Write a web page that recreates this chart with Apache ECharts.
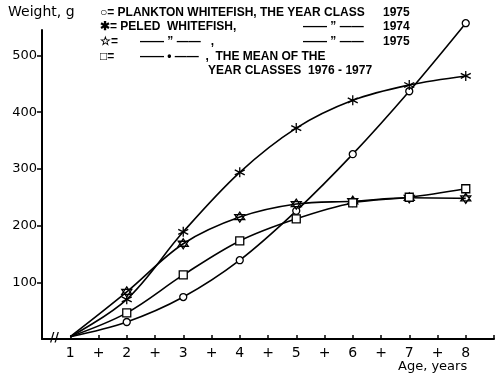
<!DOCTYPE html>
<html lang="en">
<head>
    <meta charset="UTF-8">
    <title>Weight of whitefish by age</title>
    <script src="https://cdn.jsdelivr.net/npm/echarts@6/dist/echarts.min.js"></script>
    <style>
        body { margin: 0; background: #fff; }
        #chart { width: 500px; height: 386px; }
    </style>
</head>
<body>
    <div id="chart"></div>
    <script>
        // age in years
        const ages = [1, 2, 3, 4, 5, 6, 7, 8];
        // weights, g
        const plankton1975 = [4, 30, 74, 139, 226, 326, 437, 557];
        const peled1974 = [4, 70, 189, 294, 372, 421, 448, 464];
        const peled1975 = [4, 83, 168, 215, 238, 243, 249, 248];
        const meanClasses = [4, 46, 113, 173, 212, 240, 250, 265];

        const yTicks = [100, 200, 300, 400, 500];

        const font = '"DejaVu Sans", sans-serif';
        const legFont = 'bold 12px "Liberation Sans", Arial, sans-serif';

        const asteriskPath = 'path://M0,-5L0,5M-4.3,-2.5L4.3,2.5M-4.3,2.5L4.3,-2.5';
        const starPath = 'path://M0,-5L4.33,2.5L-4.33,2.5ZM0,5L4.33,-2.5L-4.33,-2.5Z';

        function points(vals) {
            // no marker at the common starting point
            return vals.map((v, i) => ({
                value: [ages[i], v],
                symbol: i === 0 ? 'none' : undefined
            }));
        }

        function mkSeries(name, vals, symbol, size, fill) {
            return {
                name: name,
                type: 'line',
                data: points(vals),
                smooth: 0.35,
                clip: false,
                symbol: symbol,
                symbolSize: size,
                showSymbol: true,
                lineStyle: { color: '#000', width: 1.6 },
                itemStyle: { color: fill, borderColor: '#000', borderWidth: 1.3 },
                z: 3
            };
        }

        const chart = echarts.init(document.getElementById('chart'));

        // legend block typed as in the original figure
        const txt = (x, y, s) => ({
            type: 'text', left: x, top: y,
            style: { text: s, font: legFont, fill: '#000' }
        });

        chart.setOption({
            animation: false,
            backgroundColor: '#fff',
            grid: { left: 42, right: 6, top: 30, bottom: 47, outerBoundsMode: 'none' },
            xAxis: {
                type: 'value',
                min: 0.5,
                max: 8.5,
                interval: 0.5,
                splitLine: { show: false },
                axisLine: { lineStyle: { color: '#000', width: 2 } },
                axisTick: { inside: true, length: 4, lineStyle: { color: '#000', width: 1.5 } },
                axisLabel: {
                    color: '#000',
                    fontFamily: font,
                    fontSize: 14,
                    margin: 7,
                    formatter: v => {
                        if (v < 1 || v > 8) return '';
                        return Number.isInteger(v) ? String(v) : '+';
                    }
                }
            },
            yAxis: {
                type: 'value',
                min: 0,
                max: 545,
                interval: 100,
                splitLine: { show: false },
                axisLine: { lineStyle: { color: '#000', width: 2 } },
                axisTick: { length: 5, lineStyle: { color: '#000', width: 1.5 },
                    customValues: yTicks },
                axisLabel: {
                    color: '#000',
                    fontFamily: font,
                    fontSize: 13,
                    margin: 5,
                    customValues: yTicks
                }
            },
            graphic: [
                { type: 'text', left: 8, top: 5,
                  style: { text: 'Weight, g', font: '14px ' + font, fill: '#000' } },
                { type: 'text', left: 398, top: 360,
                  style: { text: 'Age, years', font: '13px ' + font, fill: '#000' } },
                txt(100, 7, '\u25CB= PLANKTON WHITEFISH, THE YEAR CLASS'),
                txt(383, 7, '1975'),
                txt(100, 21, '\u2731= PELED  WHITEFISH,'),
                txt(303, 21, '\u2014\u2014 \u201D \u2014\u2014'),
                txt(383, 21, '1974'),
                txt(100, 36, '\u2606='),
                txt(140, 36, '\u2014\u2014 \u201D \u2014\u2014   ,'),
                txt(303, 36, '\u2014\u2014 \u201D \u2014\u2014'),
                txt(383, 36, '1975'),
                txt(100, 51, '\u25A1='),
                txt(140, 51, '\u2014\u2014 \u2022 \u2014\u2014  ,  THE MEAN OF THE'),
                txt(208, 65, 'YEAR CLASSES  1976 - 1977'),
                // axis break mark
                { type: 'text', left: 50, top: 332,
                  style: { text: '//', font: 'bold 12px ' + font, fill: '#000' } }
            ],
            series: [
                mkSeries('Plankton whitefish 1975', plankton1975, 'circle', 7, '#fff'),
                mkSeries('Peled whitefish 1974', peled1974, asteriskPath, 10, '#000'),
                mkSeries('Peled whitefish 1975', peled1975, starPath, 10, '#fff'),
                mkSeries('Mean of year classes 1976-1977', meanClasses, 'rect', 8, '#fff')
            ]
        });
    </script>
</body>
</html>
